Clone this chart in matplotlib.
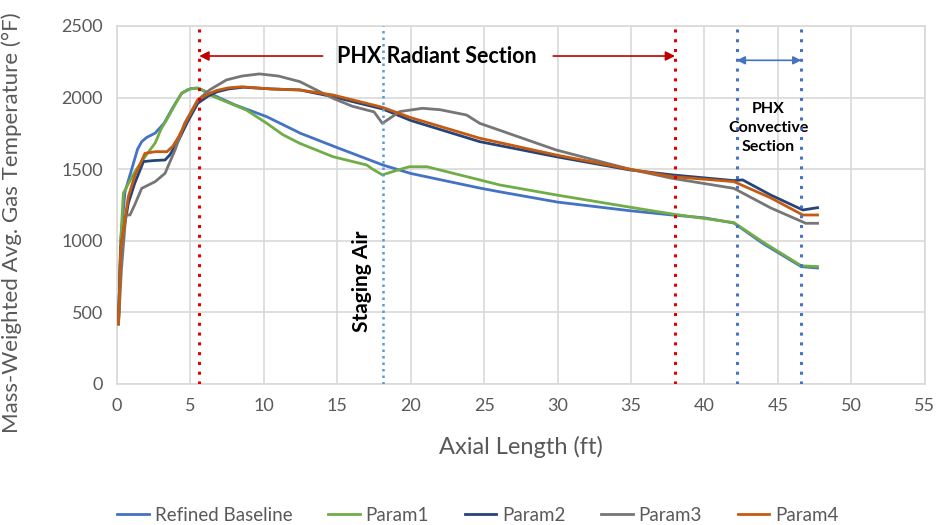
import matplotlib.pyplot as plt

plt.rcParams['font.family'] = ['Lato', 'DejaVu Sans']

# Axial position (ft) and mass-weighted gas temperature (F) for each case
x_base = [0.1, 0.25, 0.54, 1.0, 1.4, 1.68, 2.0, 2.6, 3.2, 3.8, 4.4, 5.0, 5.5, 6.5, 8.0,
          10.2, 12.5, 15.0, 18.1, 20.0, 24.7, 26.0, 30.0, 34.9, 37.8, 40.0, 42.0,
          44.0, 46.6, 47.7]
t_base = [420, 1000, 1340, 1500, 1640, 1692, 1720, 1752, 1820, 1930, 2030, 2062, 2067, 2020,
          1950, 1866, 1750, 1650, 1529, 1470, 1368, 1343, 1270, 1210, 1180, 1160, 1124,
          980, 819, 810]

x_p1 = [0.1, 0.25, 0.43, 1.22, 2.0, 2.6, 3.0, 3.5, 4.0, 4.4, 4.8, 5.2, 5.6, 6.5, 8.8, 10.2,
        11.3, 12.45, 14.7, 17.0, 17.4, 18.07, 19.0, 19.9, 21.1, 24.7, 26.05, 29.9, 34.9,
        37.8, 42.0, 44.0, 46.6, 47.7]
t_p1 = [420, 1000, 1333, 1483, 1600, 1683, 1780, 1866, 1960, 2030, 2055, 2064, 2064, 2010,
        1913, 1820, 1740, 1680, 1587, 1529, 1500, 1460, 1490, 1517, 1517, 1425, 1390, 1320,
        1235, 1187, 1127, 990, 825, 820]

x_p2 = [0.1, 0.25, 0.77, 1.2, 1.8, 2.5, 3.27, 3.6, 4.2, 4.8, 5.5, 6.2, 6.8, 7.6, 8.6, 10.5,
        12.45, 14.7, 16.5, 18.1, 20.0, 24.7, 29.9, 34.9, 37.8, 42.0, 42.6, 44.5, 46.7, 47.7]
t_p2 = [420, 950, 1262, 1400, 1553, 1560, 1564, 1600, 1704, 1830, 1960, 2010, 2040, 2060,
        2072, 2060, 2053, 2006, 1960, 1920, 1840, 1692, 1587, 1495, 1460, 1420, 1425, 1320,
        1215, 1231]

x_p3 = [0.1, 0.3, 0.6, 0.88, 1.2, 1.68, 2.6, 3.27, 3.95, 4.6, 5.5, 6.3, 7.45, 8.5,
        9.7, 11.0, 12.45, 14.7, 16.0, 17.0, 17.5, 18.07, 19.25, 20.8, 22.0, 23.8,
        24.7, 29.9, 34.9, 37.8, 42.0, 44.5, 46.9, 47.7]
t_p3 = [420, 800, 1180, 1180, 1250, 1366, 1413, 1471, 1634, 1820, 1983, 2053, 2123, 2150,
        2165, 2150, 2111, 1995, 1940, 1913, 1900, 1820, 1902, 1925, 1915, 1878,
        1820, 1634, 1500, 1436, 1366, 1230, 1122, 1122]

x_p4 = [0.1, 0.25, 0.77, 1.2, 1.9, 2.6, 3.4, 3.8, 4.2, 4.8, 5.5, 6.2, 6.8, 7.6, 8.5, 10.5,
        12.45, 14.7, 18.07, 20.0, 24.7, 29.9, 34.9, 37.8, 42.0, 44.5, 46.7, 47.7]
t_p4 = [420, 950, 1308, 1450, 1610, 1622, 1622, 1660, 1727, 1850, 1983, 2025, 2050, 2068,
        2075, 2060, 2053, 2018, 1932, 1860, 1716, 1599, 1500, 1448, 1413, 1300, 1180, 1180]

series = [
    ('Refined Baseline', x_base, t_base, '#4472C4'),
    ('Param1', x_p1, t_p1, '#70AD47'),
    ('Param2', x_p2, t_p2, '#264478'),
    ('Param3', x_p3, t_p3, '#767676'),
    ('Param4', x_p4, t_p4, '#C55A11'),
]

# Section boundaries (ft)
radiant_start = 5.6
staging_air = 18.1
radiant_end = 38.0
convective_start = 42.2
convective_end = 46.6

fig = plt.figure(figsize=(9.37, 5.25), dpi=100)
ax = fig.add_axes([0.1249, 0.2686, 0.862, 0.682])

grid_color = '#D9D9D9'
text_color = '#595959'

for label, xs, ts, color in series:
    ax.plot(xs, ts, color=color, lw=2.0, label=label, zorder=3,
            solid_joinstyle='round')

# Section marker lines
ax.axvline(radiant_start, color='#E00000', ls=(0, (1, 2.2)), lw=2.2, zorder=4)
ax.axvline(radiant_end, color='#E00000', ls=(0, (1, 2.2)), lw=2.2, zorder=4)
ax.axvline(staging_air, color='#5B9BD5', ls=(0, (1, 1.6)), lw=1.8, zorder=4)
ax.axvline(convective_start, color='#4472C4', ls=(0, (1, 2.2)), lw=2.2, zorder=4)
ax.axvline(convective_end, color='#4472C4', ls=(0, (1, 2.2)), lw=2.2, zorder=4)

# Radiant section label with arrows to its boundaries
ax.text(21.75, 2285, 'PHX Radiant Section', ha='center', va='center',
        fontsize=15.5, fontweight='bold', color='black', zorder=2)
ax.annotate('', xy=(radiant_start, 2290), xytext=(14.0, 2290),
            arrowprops=dict(arrowstyle='-|>', color='#C00000', lw=1.2,
                            mutation_scale=14, shrinkA=0, shrinkB=0))
ax.annotate('', xy=(radiant_end, 2290), xytext=(29.7, 2290),
            arrowprops=dict(arrowstyle='-|>', color='#C00000', lw=1.2,
                            mutation_scale=14, shrinkA=0, shrinkB=0))

# Convective section label
ax.annotate('', xy=(convective_start, 2260), xytext=(convective_end, 2260),
            arrowprops=dict(arrowstyle='<|-|>', color='#4472C4', lw=1.2,
                            mutation_scale=12, shrinkA=0, shrinkB=0))
ax.text(44.35, 1790, 'PHX\nConvective\nSection', ha='center', va='center',
        fontsize=11.5, fontweight='bold', color='black', linespacing=1.45)

ax.text(16.7, 719, 'Staging Air', ha='center', va='center', rotation=90,
        fontsize=15, fontweight='bold', color='black')

ax.set_xlim(0, 55)
ax.set_ylim(0, 2500)
ax.set_xticks(range(0, 56, 5))
ax.set_yticks(range(0, 2501, 500))
ax.grid(True, color=grid_color, lw=1.2, zorder=0)
ax.set_axisbelow(True)
for side in ax.spines.values():
    side.set_color(grid_color)
    side.set_linewidth(1.2)
ax.tick_params(length=0, labelsize=13, colors=text_color, pad=10)

ax.set_xlabel('Axial Length (ft)', fontsize=17, color=text_color, labelpad=16)
ax.set_ylabel('Mass-Weighted Avg. Gas Temperature (°F)', fontsize=16,
              color=text_color)
ax.yaxis.set_label_coords(-0.118, 0.45)

fig.legend(loc='lower center', bbox_to_anchor=(0.51, -0.03), ncol=5, frameon=False,
           fontsize=13.5, labelcolor=text_color, handlelength=1.7,
           handletextpad=0.3, columnspacing=1.9)

fig.savefig('out.png', dpi=100)
